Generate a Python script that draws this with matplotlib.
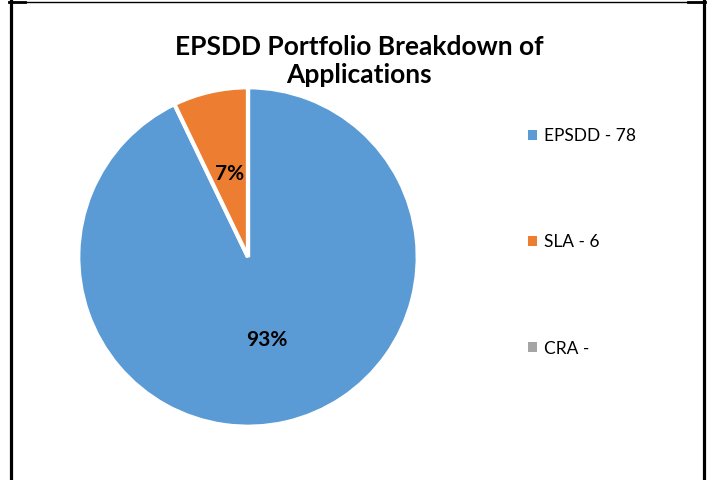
import matplotlib
matplotlib.use("Agg")
import matplotlib.pyplot as plt
from matplotlib.lines import Line2D
from matplotlib.patches import Patch

categories = ["EPSDD", "SLA", "CRA"]
values = [78, 6, 0]
legend_labels = ["EPSDD - 78", "SLA - 6", "CRA - "]
colors = ["#5B9BD5", "#ED7D31", "#A5A5A5"]
title = "EPSDD Portfolio Breakdown of\nApplications"

plt.rcParams['font.family'] = ['Lato', 'DejaVu Sans']

W, H = 709, 480
fig = plt.figure(figsize=(W / 100, H / 100), dpi=100)

# pie axes: centre (248,257), radius 168 px
cx, cy, r = 248, 257, 168
ax = fig.add_axes([(cx - r) / W, (H - cy - r) / H, 2 * r / W, 2 * r / H])

def pct(p):
    return f"{p:.0f}%" if p > 0.5 else ""

wedges, texts, autotexts = ax.pie(
    values, colors=colors, startangle=90, counterclock=False,
    autopct=pct, pctdistance=0.5, radius=1.0,
    wedgeprops=dict(edgecolor="white", linewidth=3),
    textprops=dict(fontsize=15, fontweight="bold", color="black"))
ax.set_xlim(-0.99, 0.99)
ax.set_ylim(-0.99, 0.99)
ax.set_aspect("equal")

fig.text(359 / W, 1 - 61 / H, title, ha="center", va="center",
         fontsize=19, fontweight="bold", linespacing=1.2)

handles = [Patch(facecolor=c, edgecolor="none") for c in colors]
fig.legend(handles, legend_labels, loc="upper left",
           bbox_to_anchor=(521 / W, 1 - 121 / H), frameon=False,
           fontsize=12.5, handlelength=0.5, handleheight=0.5,
           handletextpad=0.45, labelspacing=5.2, borderaxespad=0)

# frame lines
fig.add_artist(Line2D([10.5 / W, 10.5 / W], [0, 1 - 1 / H], color="black", lw=2.3, transform=fig.transFigure))
fig.add_artist(Line2D([703.5 / W, 703.5 / W], [0, 1 - 1 / H], color="black", lw=2.3, transform=fig.transFigure))
fig.add_artist(Line2D([9 / W, 705 / W], [1 - 1.8 / H, 1 - 1.8 / H], color="black", lw=1.0, transform=fig.transFigure))
fig.add_artist(Line2D([9 / W, 25 / W], [1 - 1.5 / H, 1 - 1.5 / H], color="black", lw=2.0, transform=fig.transFigure))
fig.add_artist(Line2D([688 / W, 705 / W], [1 - 1.5 / H, 1 - 1.5 / H], color="black", lw=2.0, transform=fig.transFigure))

fig.savefig("out.png", dpi=100)
